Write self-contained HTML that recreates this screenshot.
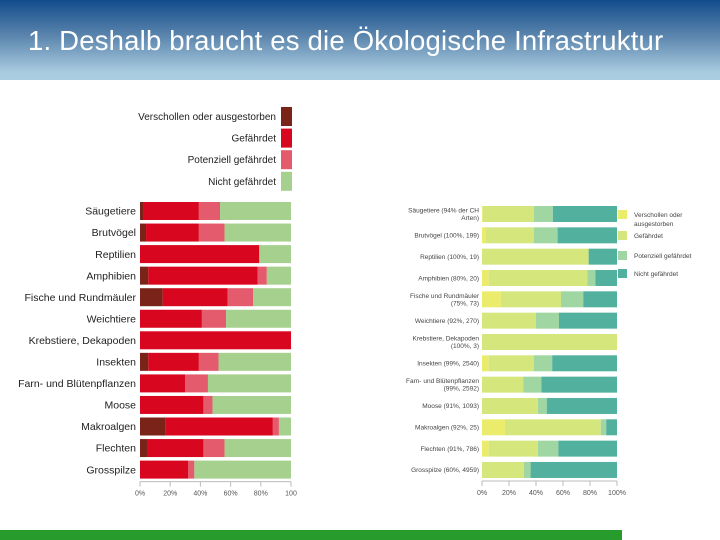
<!DOCTYPE html>
<html><head><meta charset="utf-8"><style>
html,body{margin:0;padding:0;width:720px;height:540px;overflow:hidden;background:#fff;font-family:"Liberation Sans",sans-serif}
#hdr{position:absolute;left:0;top:0;width:720px;height:80px;background:linear-gradient(#124c8c,#5b85ad 45%,#a8cbdf 90%,#abcde0)}
#title{position:absolute;left:28px;top:25px;font-size:27.5px;color:#fff;white-space:nowrap;letter-spacing:0.2px}
#foot{position:absolute;left:0;top:530px;width:622px;height:10px;background:#279b2b}
svg{position:absolute;left:0;top:0}
</style></head><body>
<div id="hdr"></div>
<div id="title">1. Deshalb braucht es die Ökologische Infrastruktur</div>
<div id="foot"></div>
<svg id="chart" width="720" height="540"></svg>
<script>
const categoriesL = ["Säugetiere","Brutvögel","Reptilien","Amphibien","Fische und Rundmäuler","Weichtiere","Krebstiere, Dekapoden","Insekten","Farn- und Blütenpflanzen","Moose","Makroalgen","Flechten","Grosspilze"];
const extinctL   = [2,4,0,5.5,15,0,0,5.5,0,0,17,5,0];
const endangeredL= [37,35,79,72.5,43,41,100,33.5,30,42,71,37,32];
const potentialL = [14,17,0,6,17,16,0,13,15,6,4,14,4];
const categoriesR = [["Säugetiere (94% der CH","Arten)"],["Brutvögel (100%, 199)"],["Reptilien (100%, 19)"],["Amphibien (80%, 20)"],["Fische und Rundmäuler","(75%, 73)"],["Weichtiere (92%, 270)"],["Krebstiere, Dekapoden","(100%, 3)"],["Insekten (99%, 2540)"],["Farn- und Blütenpflanzen","(99%, 2592)"],["Moose (91%, 1093)"],["Makroalgen (92%, 25)"],["Flechten (91%, 786)"],["Grosspilze (60%, 4959)"]];
const extinctR   = [0.5,2.5,0,5,14,0,0,5,0,0,17,5,0];
const endangeredR= [38,36,79,73,44.5,40,100,33.5,30.5,41.4,71,36.4,31];
const potentialR = [14,17.5,0,6,16.5,17,0,13.5,13.5,6.6,4,15.2,5];
const ticks = [0,20,40,60,80,100];
const ticksLabelL = ["0%","20%","40%","60%","80%","100"];
const ticksLabelR = ["0%","20%","40%","60%","80%","100%"];
const legendL = ["Verschollen oder ausgestorben","Gefährdet","Potenziell gefährdet","Nicht gefährdet"];
const legendR = [["Verschollen oder","ausgestorben"],["Gefährdet"],["Potenziell gefährdet"],["Nicht gefährdet"]];

const colL=["#7a2419","#d9061f","#e35b6c","#a6d08e"];
const colR=["#ecec6c","#d4e67c","#9fd6a2","#52b09f"];
const svg=document.getElementById('chart');
const NS="http://www.w3.org/2000/svg";
function mk(t,a,p){const e=document.createElementNS(NS,t);for(const k in a)e.setAttribute(k,a[k]);(p||svg).appendChild(e);return e;}

function drawChart(o){
  const g=mk('g',{});
  
  
  const x=v=>o.x0+(o.x1-o.x0)*v/100;
  const y=i=>o.y0+o.pitch*i;
  o.cats.forEach((c,i)=>{
    const vals=[o.ex[i],o.en[i],o.po[i],Math.max(0,100-o.ex[i]-o.en[i]-o.po[i])];
    let acc=0;
    vals.forEach((v,k)=>{
      if(v<=0)return;
      const r=mk('rect',{x:x(acc),y:y(i),width:x(acc+v)-x(acc),height:o.bh,fill:o.col[k]},g);
      
      
      acc+=v;
    });
    const lines=Array.isArray(c)?c:[c];
    lines.forEach((l,j)=>{
      const t=mk('text',{x:o.x0-o.lgap,y:y(i)+o.bh/2+o.fs*0.35+(j-(lines.length-1)/2)*o.fs*1.15,'text-anchor':'end','font-size':o.fs,fill:o.tc},g);
      t.textContent=l;
      
      
    });
  });
  const ay=y(o.cats.length-1)+o.bh+3;
  mk('line',{x1:o.x0,x2:o.x1,y1:ay,y2:ay,stroke:'#bbb','stroke-width':1},g);
  ticks.forEach((t,i)=>{
    mk('line',{x1:x(t),x2:x(t),y1:ay,y2:ay+5,stroke:'#bbb'},g);
    const tx=mk('text',{x:x(t),y:ay+14,'text-anchor':'middle','font-size':7,fill:'#555'},g);
    tx.textContent=o.tl[i];
    
    
  });
}
drawChart({name:'left-chart',cats:categoriesL,ex:extinctL,en:endangeredL,po:potentialL,col:colL,x0:140,x1:291,y0:202,pitch:21.55,bh:18,fs:10.5,lgap:4,tc:'#222',tl:ticksLabelL});
drawChart({name:'right-chart',cats:categoriesR,ex:extinctR,en:endangeredR,po:potentialR,col:colR,x0:482,x1:617,y0:206,pitch:21.33,bh:16,fs:6.5,lgap:3,tc:'#444',tl:ticksLabelR});

legendL.forEach((l,i)=>{
  const yy=107+21.6*i;
  const r=mk('rect',{x:281,y:yy,width:11,height:19,fill:colL[i]});
  
  
  const t=mk('text',{x:276,y:yy+13,'text-anchor':'end','font-size':10,fill:'#222'});
  t.textContent=l;
  
  
});
legendR.forEach((l,i)=>{
  const yy=[210,231,251,269][i];
  const r=mk('rect',{x:618,y:yy,width:9,height:9,fill:colR[i]});
  
  
  l.forEach((s,j)=>{
    const t=mk('text',{x:634,y:yy+7+j*9,'font-size':6.5,fill:'#444'});
    t.textContent=s;
    
    
  });
});
</script>
</body></html>
